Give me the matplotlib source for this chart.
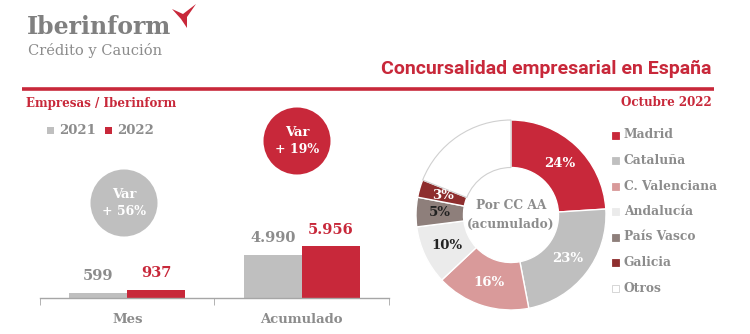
import matplotlib
matplotlib.use("Agg")
import matplotlib.pyplot as plt
from matplotlib.patches import Circle, Polygon, Rectangle
import numpy as np

RED = "#C8283A"
GRAY = "#BFBFBF"
TXT = "#8C8C8C"
SERIF = "DejaVu Serif"
SANS = "Roboto"

# data
years = ["2021", "2022"]
groups = ["Mes", "Acumulado"]
v2021 = [599, 4990]
v2022 = [937, 5956]
lbl2021 = ["599", "4.990"]
lbl2022 = ["937", "5.956"]
var_labels = ["+ 56%", "+ 19%"]

regions = ["Madrid", "Cataluña", "C. Valenciana", "Andalucía", "País Vasco",
           "Galicia", "Otros"]
shares = [24, 23, 16, 10, 5, 3, 19]
share_colors = [RED, GRAY, "#D99A9A", "#EBEBEB", "#8E7F7B", "#8E2E2E", "#FFFFFF"]
share_txt = ["white", "white", "white", "#222222", "#222222", "white", None]

W, H = 750, 334
fig = plt.figure(figsize=(W / 100, H / 100), dpi=100)


def px_axes(x0, y0, x1, y1, **kw):
    # axes from pixel box (top-left origin)
    return fig.add_axes([x0 / W, 1 - y1 / H, (x1 - x0) / W, (y1 - y0) / H], **kw)


# overlay in pixel coordinates for header and decorations
ov = px_axes(0, 0, W, H)
ov.set_xlim(0, W)
ov.set_ylim(H, 0)
ov.axis("off")
ov.set_zorder(0)

ov.text(27, 27, "Iberinform", fontsize=17, fontweight="bold", family=SERIF,
        color="#808080", va="center", ha="left")
ov.text(28, 50, "Crédito y Caución", fontsize=10.5, family=SERIF,
        color="#8C8C8C", va="center", ha="left")
ov.add_patch(Polygon([(172, 9), (183, 14), (196, 4), (187, 17), (187, 28),
                      (181, 19)], closed=True, color=RED, lw=0))

ov.text(711, 69, "Concursalidad empresarial en España", fontsize=14,
        fontweight="bold", family=SANS, color=RED, ha="right", va="center")
ov.plot([22, 714], [89, 89], color=RED, lw=2.6, solid_capstyle="butt")
ov.text(26, 104, "Empresas / Iberinform", fontsize=8.6, fontweight="bold",
        family=SERIF, color=RED, ha="left", va="center")
ov.text(712, 103, "Octubre 2022", fontsize=8.6, fontweight="bold",
        family=SERIF, color=RED, ha="right", va="center")

# bar legend
for x, c, t in [(47, GRAY, years[0]), (105, RED, years[1])]:
    ov.add_patch(Rectangle((x, 127), 7, 7, color=c, lw=0))
    ov.text(x + 12, 130.5, t, fontsize=9.5, fontweight="bold", family=SERIF,
            color=TXT, ha="left", va="center")

# bars
ax = px_axes(40, 110, 389, 298)
ax.patch.set_alpha(0)
x = np.arange(len(groups))
bw = 0.333
ax.bar(x - bw / 2, v2021, bw, color=GRAY, zorder=2)
ax.bar(x + bw / 2, v2022, bw, color=RED, zorder=2)
for i in range(len(groups)):
    ax.annotate(lbl2021[i], (x[i] - bw / 2, v2021[i]), xytext=(0, 12),
                textcoords="offset points", ha="center", va="center",
                fontsize=10.5, fontweight="bold", family=SERIF, color=TXT)
    ax.annotate(lbl2022[i], (x[i] + bw / 2, v2022[i]), xytext=(0, 12),
                textcoords="offset points", ha="center", va="center",
                fontsize=10.5, fontweight="bold", family=SERIF, color=RED)
ax.set_xlim(-0.5, 1.5)
ax.set_ylim(0, 21650)
for s in ["top", "right", "left"]:
    ax.spines[s].set_visible(False)
ax.spines["bottom"].set_color("#A6A6A6")
ax.spines["bottom"].set_linewidth(1)
ax.set_yticks([])
ax.set_xticks(x)
ax.set_xticklabels(groups, fontsize=9.5, fontweight="bold", family=SERIF,
                   color=TXT)
ax.tick_params(axis="x", length=0, pad=11)
ax.set_xticks([-0.5, 0.5, 1.5], minor=True)
ax.tick_params(axis="x", which="minor", length=5, color="#A6A6A6")

# variation bubbles
for (cx, cy), c, t in [((124, 203), GRAY, var_labels[0]),
                       ((297, 141), RED, var_labels[1])]:
    ov.add_patch(Circle((cx, cy), 33.5, color=c, lw=0))
    ov.text(cx, cy - 8.5, "Var", fontsize=9.5, fontweight="bold", family=SERIF,
            color="white", ha="center", va="center")
    ov.text(cx, cy + 8.5, t, fontsize=9, fontweight="bold", family=SERIF,
            color="white", ha="center", va="center")

# donut
r = 95
pa = px_axes(511 - r, 215 - r, 511 + r, 215 + r)
wedges, _ = pa.pie(shares, colors=share_colors, startangle=90,
                   counterclock=False, radius=1,
                   wedgeprops=dict(width=0.5, edgecolor="white", linewidth=1))
wedges[-1].set_edgecolor("#D0D0D0")
wedges[-1].set_linewidth(0.8)
pa.set_xlim(-1, 1)
pa.set_ylim(-1, 1)
cum = np.cumsum([0] + shares)
for i, (s, tc) in enumerate(zip(shares, share_txt)):
    if tc is None:
        continue
    ang = np.deg2rad(90 - (cum[i] + s / 2) / 100 * 360)
    pa.text(0.75 * np.cos(ang), 0.75 * np.sin(ang), f"{s}%", fontsize=9.5,
            fontweight="bold", family=SERIF, color=tc, ha="center",
            va="center")
pa.text(0, 0, "Por CC AA\n(acumulado)", fontsize=8.8, fontweight="bold",
        family=SERIF, color=TXT, ha="center", va="center", linespacing=1.55)

# donut legend
for i, (name, c) in enumerate(zip(regions, share_colors)):
    y = 135 + i * 25.5
    ov.add_patch(Rectangle((612, y - 3.5), 7, 7, facecolor=c,
                           edgecolor="#D0D0D0" if c == "#FFFFFF" else c,
                           lw=0.6))
    ov.text(624, y, name, fontsize=8.8, fontweight="bold", family=SERIF,
            color=TXT, ha="left", va="center")

fig.savefig("out.png", dpi=100)
